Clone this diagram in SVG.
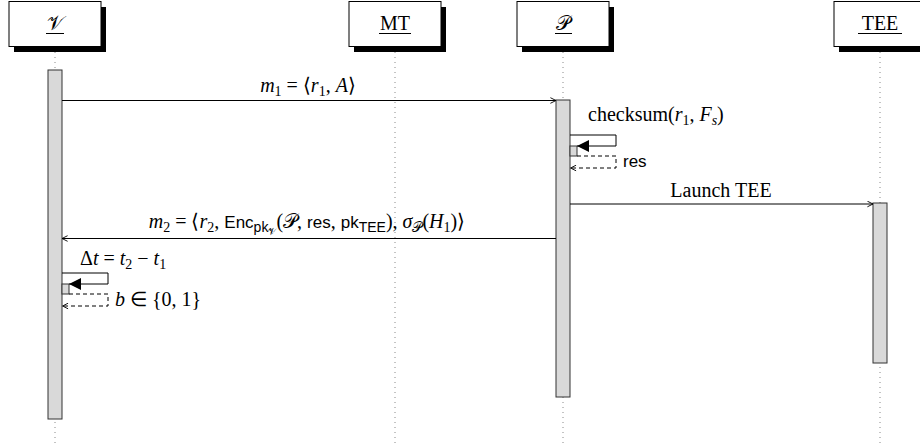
<svg xmlns="http://www.w3.org/2000/svg" width="920" height="446" viewBox="0 0 920 446">
<style>
.t{font-family:"Liberation Serif",serif;font-size:20px;fill:#000}
.i{font-style:italic}
.sb{font-size:14px}
.ss{font-size:10px}
.sn{font-family:"Liberation Sans",sans-serif}
.life{stroke:#888;stroke-width:1;stroke-dasharray:1 4;fill:none}
.box{fill:#fff;stroke:#000;stroke-width:1}
.sh{fill:#000}
.bar{fill:#d9d9d9;stroke:#333;stroke-width:1}
.msg{stroke:#000;stroke-width:1;fill:none}
.ret{stroke:#000;stroke-width:1;fill:none;stroke-dasharray:4 3}
.ul{stroke:#000;stroke-width:1}
</style>
<defs>
<marker id="open" viewBox="0 0 10 10" refX="9" refY="5" markerWidth="7" markerHeight="7" markerUnits="userSpaceOnUse" orient="auto">
<path d="M1,1 L9,5 L1,9" fill="none" stroke="#000" stroke-width="1.3"/>
</marker>
<marker id="fill" viewBox="0 0 12 12" refX="12" refY="6" markerWidth="12" markerHeight="12" markerUnits="userSpaceOnUse" orient="auto">
<path d="M0,0 L12,6 L0,12 Z" fill="#000"/>
</marker>
</defs>

<g id="lifelines">
<line class="life" x1="55" y1="47" x2="55" y2="444"/>
<line class="life" x1="395" y1="47" x2="395" y2="444"/>
<line class="life" x1="563" y1="47" x2="563" y2="444"/>
<line class="life" x1="880" y1="47" x2="880" y2="444"/>
</g>

<g id="node-V">
<rect class="sh" x="14" y="7" width="92" height="45"/>
<rect class="box" x="9" y="1.5" width="92" height="45"/>
<text class="t" x="55" y="30" text-anchor="middle">𝒱</text>
<line class="ul" x1="46" y1="33.5" x2="64" y2="33.5"/>
</g>
<g id="node-MT">
<rect class="sh" x="354" y="7" width="92" height="45"/>
<rect class="box" x="349" y="1.5" width="92" height="45"/>
<text class="t" x="395" y="30" text-anchor="middle">MT</text>
<line class="ul" x1="379" y1="33.5" x2="411" y2="33.5"/>
</g>
<g id="node-P">
<rect class="sh" x="522" y="7" width="92" height="45"/>
<rect class="box" x="517" y="1.5" width="92" height="45"/>
<text class="t" x="563" y="30" text-anchor="middle">𝒫</text>
<line class="ul" x1="555" y1="33.5" x2="572" y2="33.5"/>
</g>
<g id="node-TEE">
<rect class="sh" x="839" y="7" width="92" height="45"/>
<rect class="box" x="834" y="1.5" width="92" height="45"/>
<text class="t" x="880" y="30" text-anchor="middle">TEE</text>
<line class="ul" x1="858" y1="33.5" x2="902" y2="33.5"/>
</g>

<g id="activations">
<rect class="bar" x="48" y="70" width="14" height="349"/>
<rect class="bar" x="556" y="100" width="14" height="297"/>
<rect class="bar" x="873" y="203" width="14" height="160"/>
<rect class="bar" x="570" y="146" width="7" height="10"/>
<rect class="bar" x="62" y="284" width="7" height="10"/>
</g>

<g id="connectors">
<line class="msg" x1="62" y1="100.5" x2="556" y2="100.5" marker-end="url(#open)"/>
<path class="msg" d="M570,135 H616 V146 H577" marker-end="url(#fill)"/>
<path class="ret" d="M577,156 H616 V168 H570.5" marker-end="url(#open)"/>
<line class="msg" x1="570" y1="204" x2="873" y2="204" marker-end="url(#open)"/>
<line class="msg" x1="556" y1="238.5" x2="62" y2="238.5" marker-end="url(#open)"/>
<path class="msg" d="M62,273 H108 V284 H69" marker-end="url(#fill)"/>
<path class="ret" d="M69,294 H108 V306 H62.5" marker-end="url(#open)"/>
</g>

<g id="labels">
<text class="t" x="308" y="92" text-anchor="middle"><tspan class="i">m</tspan><tspan class="sb" dy="4">1</tspan><tspan dy="-4"> = ⟨</tspan><tspan class="i">r</tspan><tspan class="sb" dy="4">1</tspan><tspan dy="-4">, </tspan><tspan class="i">A</tspan>⟩</text>
<text class="t" x="588" y="121">checksum(<tspan class="i">r</tspan><tspan class="sb" dy="4">1</tspan><tspan dy="-4">, </tspan><tspan class="i">F</tspan><tspan class="sb i" dy="4">s</tspan><tspan dy="-4">)</tspan></text>
<text class="t sn" x="623" y="167" style="font-size:17px">res</text>
<text class="t" x="721" y="197" text-anchor="middle">Launch TEE</text>
<text class="t" x="307" y="228" text-anchor="middle"><tspan class="i">m</tspan><tspan class="sb" dy="4">2</tspan><tspan dy="-4"> = ⟨</tspan><tspan class="i">r</tspan><tspan class="sb" dy="4">2</tspan><tspan dy="-4">, </tspan><tspan class="sn" style="font-size:17px">Enc</tspan><tspan class="sn sb" dy="4">pk</tspan><tspan class="ss" dy="3">𝒱</tspan><tspan dy="-7">(</tspan><tspan>𝒫</tspan>, <tspan class="sn" style="font-size:17px">res</tspan>, <tspan class="sn" style="font-size:17px">pk</tspan><tspan class="sn sb" dy="4">TEE</tspan><tspan dy="-4">), </tspan><tspan class="i">σ</tspan><tspan class="sb" dy="4">𝒫</tspan><tspan dy="-4">(</tspan><tspan class="i">H</tspan><tspan class="sb" dy="4">1</tspan><tspan dy="-4">)⟩</tspan></text>
<text class="t" x="80" y="265">Δ<tspan class="i">t</tspan> = <tspan class="i">t</tspan><tspan class="sb" dy="4">2</tspan><tspan dy="-4"> − </tspan><tspan class="i">t</tspan><tspan class="sb" dy="4">1</tspan></text>
<text class="t" x="115" y="306"><tspan class="i">b</tspan> ∈ {0, 1}</text>
</g>
</svg>
